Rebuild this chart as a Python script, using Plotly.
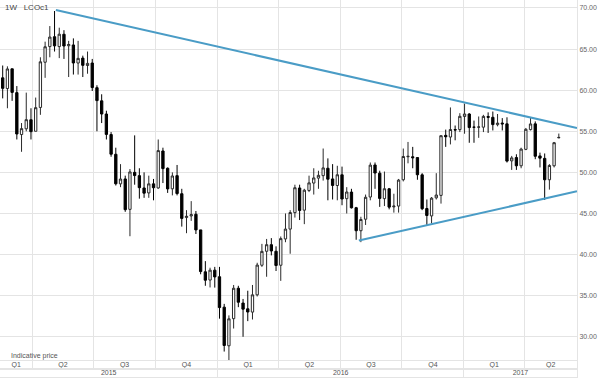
import pandas as pd
import plotly.graph_objects as go

# ---------------- data (weekly Brent, LCOc1) ----------------
week_start = "2015-02-16"
n_weeks = 119
dates = pd.date_range(week_start, periods=n_weeks, freq="7D")

open_2015 = [61.5, 60.2, 62.6, 59.7, 54.6, 55.3, 56.4, 55.0, 57.9, 63.4, 65.3, 66.5, 65.3, 66.8, 65.4, 65.5,
             63.3, 63.9, 63.0, 63.3, 60.3, 58.7, 57.1, 54.6, 52.2, 48.6, 49.2, 45.5, 50.0, 49.6, 48.1, 47.5,
             48.6, 48.1, 52.6, 50.5, 48.0, 49.6, 47.4, 44.5, 44.7, 44.9, 43.0, 37.9, 36.9, 38.1]
high_2015 = [63.0, 62.9, 62.6, 60.5, 56.0, 59.7, 57.8, 59.1, 64.0, 65.9, 67.8, 69.63, 67.6, 67.3, 66.0, 66.3,
             66.0, 64.2, 64.7, 63.8, 60.6, 59.5, 57.5, 54.9, 53.0, 51.0, 49.6, 50.4, 54.5, 50.5, 50.0, 49.6,
             49.2, 54.0, 53.0, 50.6, 50.0, 50.9, 48.0, 45.4, 46.5, 45.3, 43.0, 39.2, 38.4, 38.5]
low_2015 = [59.0, 57.8, 58.7, 54.0, 52.5, 55.0, 54.0, 55.0, 57.0, 61.5, 64.0, 64.7, 63.9, 63.8, 61.6, 61.9,
            61.9, 61.6, 62.0, 59.9, 55.0, 56.0, 54.0, 51.9, 48.4, 48.2, 45.2, 42.23, 48.5, 46.8, 46.9, 46.9,
            46.6, 48.0, 48.7, 47.5, 47.2, 47.2, 43.4, 42.6, 44.1, 42.5, 37.6, 36.2, 36.0, 35.98]
close_2015 = [60.22, 62.58, 59.73, 54.67, 55.32, 56.41, 54.95, 57.87, 63.45, 65.28, 66.46, 65.39, 66.81, 65.37,
              65.56, 63.31, 63.87, 63.02, 63.26, 60.32, 58.73, 57.10, 54.62, 52.21, 48.61, 49.19, 45.46, 50.05,
              49.61, 48.14, 47.47, 48.60, 48.13, 52.65, 50.46, 47.99, 49.56, 47.42, 44.40, 44.66, 44.86, 43.00,
              37.93, 36.88, 38.10, 37.28]

open_2016 = [37.3, 33.6, 28.9, 32.2, 35.9, 34.1, 33.4, 33.0, 35.1, 38.7, 40.4, 41.2, 40.4, 38.7, 41.9, 43.1,
             45.1, 48.1, 45.4, 47.8, 48.7, 49.3, 49.6, 50.5, 49.2, 48.4, 49.7, 46.8, 47.6, 45.7, 42.9, 44.3,
             47.0, 50.9, 49.9, 46.8, 48.0, 45.8, 45.9, 49.1, 51.9, 51.9, 51.8, 49.7, 45.6, 44.7, 46.9, 47.2,
             54.5, 54.3, 55.2, 55.2]
high_2016 = [38.5, 34.0, 32.6, 36.3, 36.2, 34.6, 35.6, 36.3, 39.0, 41.3, 41.9, 42.0, 41.0, 42.2, 45.0, 45.4,
             48.5, 48.5, 48.0, 49.6, 50.5, 50.2, 52.9, 51.7, 51.0, 50.8, 50.7, 48.2, 48.0, 45.8, 44.6, 47.3,
             51.2, 51.2, 50.2, 50.1, 48.1, 47.4, 49.2, 52.9, 53.7, 53.1, 51.8, 49.9, 46.7, 47.0, 49.9, 54.5,
             55.2, 57.9, 55.7, 57.2]
low_2016 = [32.2, 28.2, 27.10, 31.0, 33.6, 30.0, 31.9, 32.1, 34.9, 38.5, 37.3, 39.9, 38.0, 36.8, 41.5, 40.1,
            44.5, 44.2, 43.7, 47.6, 47.3, 48.0, 49.0, 46.6, 46.7, 46.6, 46.0, 45.0, 45.6, 41.8, 41.51, 43.6,
            46.6, 48.0, 45.8, 45.9, 45.5, 45.1, 45.1, 48.9, 51.1, 50.5, 49.1, 45.4, 43.6, 43.8, 46.7, 46.2,
            53.1, 53.4, 53.9, 54.9]
close_2016 = [33.55, 28.94, 32.18, 35.90, 34.20, 33.36, 33.01, 35.10, 38.72, 40.39, 41.20, 40.44, 38.67, 41.94,
              43.10, 45.11, 48.13, 45.37, 47.83, 48.72, 49.32, 49.64, 50.54, 49.17, 48.41, 49.71, 46.76, 47.61,
              45.69, 42.90, 44.27, 46.97, 50.88, 49.92, 46.83, 48.01, 45.77, 45.89, 49.06, 51.93, 51.95, 51.78,
              49.71, 45.58, 44.75, 46.86, 47.24, 54.46, 54.33, 55.21, 55.16, 56.82]

open_2017 = [56.8, 57.1, 55.5, 55.5, 55.5, 56.8, 56.7, 55.8, 56.0, 55.9, 51.4, 51.8, 50.8, 52.8, 55.2, 55.9,
             52.0, 51.7, 49.1, 50.8, 54.2]
high_2017 = [58.37, 57.2, 56.3, 56.8, 57.0, 57.3, 57.4, 57.1, 56.6, 56.7, 52.0, 52.2, 53.0, 55.4, 56.65, 56.2,
             52.4, 52.3, 51.0, 53.7, 54.72]
low_2017 = [54.7, 53.6, 53.6, 54.2, 54.9, 54.8, 55.1, 55.6, 55.1, 51.2, 50.3, 50.3, 50.5, 52.7, 55.1, 51.6,
            50.6, 46.64, 47.9, 50.6, 54.15]
close_2017 = [57.10, 55.45, 55.49, 55.52, 56.81, 56.70, 55.81, 55.99, 55.90, 51.37, 51.76, 50.80, 52.83, 55.24,
              55.89, 51.96, 51.73, 49.10, 50.84, 53.61, 54.25]

opens = open_2015 + open_2016 + open_2017
highs = high_2015 + high_2016 + high_2017
lows = low_2015 + low_2016 + low_2017
closes = close_2015 + close_2016 + close_2017

# trend lines (drawn on the chart)
upper_dates = ["2015-05-06", "2017-06-18"]
upper_vals = [69.75, 55.40]
lower_dates = ["2016-07-29", "2017-06-18"]
lower_vals = [41.70, 47.70]

x_range = ["2015-02-12", "2017-06-18"]
y_range = [27.05, 70.97]
y_ticks = [30, 35, 40, 45, 50, 55, 60, 65, 70]

quarter_starts = pd.date_range("2015-01-01", "2017-07-01", freq="QS")
year_starts = pd.date_range("2015-01-01", "2018-01-01", freq="YS")

# ---------------- styling ----------------
GRID = "#e4e4e4"
TXT = "#555555"
FONT = "Liberation Sans"
TREND = "#4a9cc6"

H = 378
PLOT_H = 377
ROW = 8


def visible_centers(starts, fmt):
    lo, hi = pd.Timestamp(x_range[0]), pd.Timestamp(x_range[1])
    xs, labels = [], []
    for a, b in zip(starts[:-1], starts[1:]):
        a2, b2 = max(a, lo), min(b, hi)
        if b2 <= a2:
            continue
        xs.append(a2 + (b2 - a2) / 2)
        labels.append(fmt(a))
    return xs, labels


q_x, q_lab = visible_centers(quarter_starts, lambda d: "Q%d" % ((d.month - 1) // 3 + 1))
y_x, y_lab = visible_centers(year_starts, lambda d: str(d.year))

fig = go.Figure()

fig.add_trace(go.Candlestick(
    x=dates, open=opens, high=highs, low=lows, close=closes,
    increasing=dict(line=dict(color="#2a2a2a", width=1), fillcolor="#ffffff"),
    decreasing=dict(line=dict(color="#000000", width=1), fillcolor="#000000"),
    whiskerwidth=0, hoverinfo="skip", showlegend=False,
    xaxis="x", yaxis="y",
))

fig.add_trace(go.Scatter(x=upper_dates, y=upper_vals, mode="lines",
                         line=dict(color=TREND, width=2), hoverinfo="skip", showlegend=False,
                         xaxis="x", yaxis="y"))
fig.add_trace(go.Scatter(x=lower_dates, y=lower_vals, mode="lines",
                         line=dict(color=TREND, width=2), hoverinfo="skip", showlegend=False,
                         xaxis="x", yaxis="y"))

fig.add_trace(go.Scatter(x=q_x, y=[0.5] * len(q_x), mode="text", text=q_lab,
                         textfont=dict(family=FONT, size=7, color=TXT), cliponaxis=False,
                         hoverinfo="skip", showlegend=False, xaxis="x2", yaxis="y2"))
fig.add_trace(go.Scatter(x=y_x, y=[0.5] * len(y_x), mode="text", text=y_lab,
                         textfont=dict(family=FONT, size=7, color=TXT), cliponaxis=False,
                         hoverinfo="skip", showlegend=False, xaxis="x3", yaxis="y3"))

main_bottom = (PLOT_H - 361) / PLOT_H
row_mid = ROW / PLOT_H

common_x = dict(type="date", range=x_range, showticklabels=False, ticks="", zeroline=False,
                gridcolor=GRID, gridwidth=1, fixedrange=True, automargin=False)

fig.update_layout(
    template="none",
    width=600, height=H,
    margin=dict(l=0, r=23, t=0, b=1, pad=0),
    paper_bgcolor="white", plot_bgcolor="white",
    font=dict(family=FONT, size=8, color=TXT),
    showlegend=False,
    xaxis=dict(common_x, domain=[0, 1], anchor="y", showgrid=True, dtick="M3", tick0="2015-01-01",
               showline=False, rangeslider=dict(visible=False)),
    xaxis2=dict(common_x, domain=[0, 1], anchor="y2", matches="x", showgrid=True, dtick="M3",
                tick0="2015-01-01", showline=True, mirror=True, linecolor=GRID, linewidth=1),
    xaxis3=dict(common_x, domain=[0, 1], anchor="y3", matches="x", showgrid=True, dtick="M12",
                tick0="2015-01-01", showline=True, mirror=True, linecolor=GRID, linewidth=1),
    yaxis=dict(domain=[main_bottom, 1], anchor="x", side="right", range=y_range,
               tickvals=y_ticks, tickformat=".2f", showgrid=True, gridcolor=GRID, gridwidth=1,
               zeroline=False, ticks="", showline=True, linecolor=GRID, linewidth=1,
               tickfont=dict(family=FONT, size=7, color="#666666"), fixedrange=True,
               automargin=False),
    yaxis2=dict(domain=[row_mid, main_bottom], anchor="x2", side="right", range=[0, 1],
                showgrid=False, zeroline=False, showticklabels=False, ticks="",
                showline=True, linecolor=GRID, fixedrange=True, automargin=False),
    yaxis3=dict(domain=[0, row_mid], anchor="x3", side="right", range=[0, 1],
                showgrid=False, zeroline=False, showticklabels=False, ticks="",
                showline=True, linecolor=GRID, fixedrange=True, automargin=False),
)

fig.add_annotation(text="1W\u00a0\u00a0\u00a0LCOc1", xref="paper", yref="paper",
                   x=3 / 577, y=(PLOT_H - 7) / PLOT_H, xanchor="left", yanchor="middle",
                   showarrow=False, font=dict(family=FONT, size=8, color="#444444"))
fig.add_annotation(text="Indicative price", xref="paper", yref="paper",
                   x=9 / 577, y=(PLOT_H - 356) / PLOT_H, xanchor="left", yanchor="middle",
                   showarrow=False, font=dict(family=FONT, size=7, color=TXT))

fig.write_html(
    "out.html",
    config={"displayModeBar": False, "staticPlot": True},
    post_script="document.body.style.margin='0';document.body.style.padding='0';",
)
